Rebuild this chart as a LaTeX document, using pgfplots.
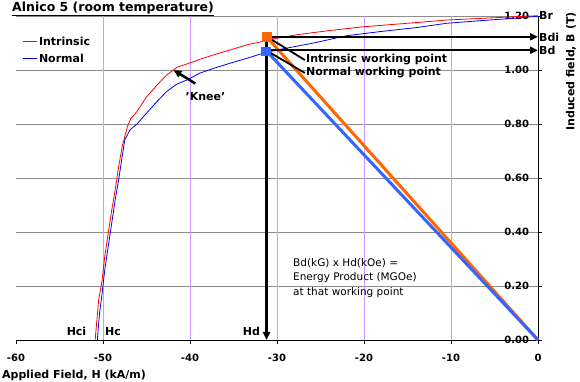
\documentclass[border=0pt]{standalone}
\usepackage{pgfplots}
\pgfplotsset{compat=1.18}
\usepackage{fontspec}
\setmainfont{DejaVu Sans}
\usetikzlibrary{arrows.meta}
\definecolor{gridpurple}{RGB}{204,153,255}
\definecolor{gridgray}{RGB}{140,140,140}
\definecolor{wpOrange}{RGB}{255,102,0}
\definecolor{wpBlue}{RGB}{51,102,255}
\begin{document}
\begin{tikzpicture}
\useasboundingbox (-16pt,-42pt) rectangle (564pt,340pt);
\begin{axis}[
  at={(0pt,0pt)}, anchor=south west,
  scale only axis, width=522pt, height=324pt,
  xmin=-60, xmax=0, ymin=0, ymax=1.2,
  clip=false,
  axis x line*=bottom, axis y line*=right,
  axis line style={black, line width=0.8pt},
  xtick={-60,-50,-40,-30,-20,-10,0},
  ytick={0,0.2,0.4,0.6,0.8,1.0,1.2},
  tick label style={font=\fontsize{10}{12}\selectfont\bfseries},
  /pgf/number format/assume math mode=true,
  tick align=outside, major tick length=4pt,
  tick style={black, line width=0.8pt},
  ymajorgrids, y grid style={gridgray, line width=0.8pt},
  extra x ticks={-50,-40,-30,-20,-10}, extra x tick labels={},
  extra x tick style={grid=major, major tick length=0pt, major grid style={gridpurple, line width=0.8pt}},
  y tick label style={/pgf/number format/fixed, /pgf/number format/fixed zerofill, /pgf/number format/precision=2, anchor=east, xshift=-9.5pt},
  x tick label style={yshift=-7pt},
  every axis legend/.style={at={(rel axis cs:0.0115,0.943)}, anchor=north west,
    shape=rectangle, draw=none, fill=none, inner sep=0pt,
    nodes={inner sep=2pt, text depth=0.15em},
    font=\fontsize{11}{13}\selectfont\bfseries, row sep=3.2pt},
  legend cell align=left,
  legend image code/.code={\draw[#1] (0pt,0pt) -- (14pt,0pt);},
]
\addplot[red, line width=0.8pt] coordinates {
(-50.9,0.00) (-50.7,0.074) (-50.5,0.148) (-50.1,0.222) (-49.8,0.309) (-49.4,0.395)
(-49.0,0.48) (-48.6,0.556) (-48.2,0.642) (-47.8,0.716) (-47.2,0.79) (-46.8,0.82)
(-46.1,0.846) (-45.0,0.90) (-43.8,0.944) (-42.7,0.981) (-41.5,1.01) (-40.2,1.024)
(-38.9,1.039) (-37.3,1.056) (-35.4,1.074) (-33.5,1.093) (-31.6,1.106) (-30.4,1.116)
(-27.4,1.132) (-24.0,1.146) (-20.1,1.16) (-15.0,1.173) (-10.5,1.185)
(-6.0,1.192) (-2.9,1.197) (0,1.201)};
\addlegendentry{Intrinsic}
\addplot[blue, line width=0.8pt] coordinates {
(-50.65,0.00) (-50.4,0.099) (-50.1,0.173) (-49.8,0.259) (-49.4,0.346) (-49.0,0.432)
(-48.6,0.519) (-48.2,0.593) (-47.8,0.679) (-47.5,0.741) (-46.9,0.778) (-46.1,0.80)
(-45.0,0.84) (-43.8,0.883) (-42.7,0.92) (-41.5,0.948) (-40.2,0.965) (-38.9,0.988)
(-37.3,1.006) (-35.4,1.025) (-33.5,1.043) (-31.6,1.062) (-29.7,1.076)
(-25.8,1.10) (-22.0,1.127) (-18.2,1.142) (-14.0,1.157) (-10.5,1.173) (-6.5,1.183)
(-2.9,1.191) (0,1.199)};
\addlegendentry{Normal}
\addplot[wpOrange, line width=3pt, forget plot] coordinates {(-31.2,1.123) (0,0)};
\addplot[wpBlue, line width=3pt, forget plot] coordinates {(-31.2,1.07) (0,0)};
% annotation lines
\draw[black, line width=2.5pt, -{Triangle[length=8pt,width=7pt]}] (axis cs:-31.2,1.123) -- (axis cs:-31.2,0);
\draw[black, line width=2pt, -{Triangle[length=8pt,width=7pt]}] (axis cs:-31.2,1.123) -- (axis cs:0,1.123);
\draw[black, line width=2pt, -{Triangle[length=8pt,width=7pt]}] (axis cs:-31.2,1.073) -- (axis cs:0,1.073);
\draw[black, line width=1.8pt] (axis cs:-31.1,1.122) -- (axis cs:-26.8,1.037);
\draw[black, line width=1.8pt] (axis cs:-31.1,1.070) -- (axis cs:-26.8,0.989);
\draw[black, line width=2.5pt, -{Triangle[length=8pt,width=7pt]}] (axis cs:-39.4,0.95) -- (axis cs:-41.9,1.0);
\addplot[only marks, mark=square*, mark size=4.8pt, wpOrange, forget plot] coordinates {(-31.2,1.123)};
\addplot[only marks, mark=square*, mark size=4.3pt, wpBlue, forget plot] coordinates {(-31.3,1.07)};
\end{axis}
\node[anchor=west, inner sep=0pt, font=\fontsize{12.5}{14}\selectfont\bfseries] at (-4pt,331pt) {\underline{Alnico 5 (room temperature)}};
\begin{scope}[every node/.style={inner sep=0pt, font=\fontsize{11}{13}\selectfont\bfseries}]
\node at (60.5pt,9pt) {Hci};
\node at (97pt,8pt) {Hc};
\node at (235.5pt,9pt) {Hd};
\node[anchor=west] at (523pt,324.5pt) {Br};
\node[anchor=west] at (523pt,303pt) {Bdi};
\node[anchor=west] at (523pt,289.5pt) {Bd};
\node[anchor=west] at (290pt,280pt) {Intrinsic working point};
\node[anchor=west] at (290pt,267pt) {Normal working point};
\node at (189.5pt,243pt) {'Knee'};
\node[rotate=90] at (555pt,268.5pt) {Induced field, B (T)};
\node[anchor=west] at (-14pt,-35pt) {Applied Field, H (kA/m)};
\end{scope}
\node[anchor=north west, inner sep=0pt, align=left, font=\fontsize{10.5}{14.5}\selectfont] at (277pt,82pt) {Bd(kG) x Hd(kOe) =\\Energy Product (MGOe)\\at that working point};
\end{tikzpicture}
\end{document}
